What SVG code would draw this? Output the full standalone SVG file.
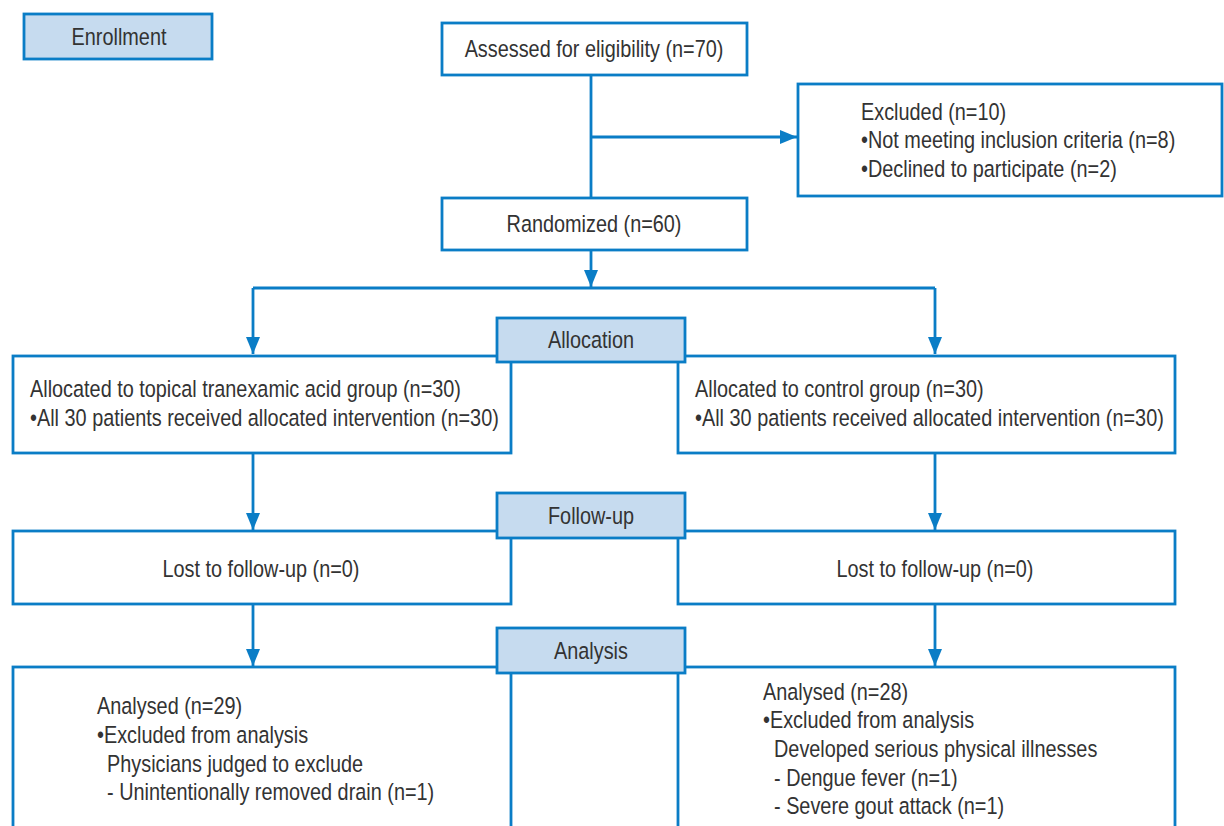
<svg xmlns="http://www.w3.org/2000/svg" width="1224" height="826" viewBox="0 0 1224 826">
<style>
.box{fill:#ffffff;stroke:#0a7dc6;stroke-width:2.8}
.phase{fill:#c6dbef;stroke:#0a7dc6;stroke-width:2.8}
.ln{fill:none;stroke:#0a7dc6;stroke-width:2.8}
text{font-family:'Liberation Sans',Arial,sans-serif;font-size:23.5px;fill:#333333}
.c{text-anchor:middle}
</style>
<defs>
<marker id="ah" viewBox="0 0 17 14" refX="17" refY="7" markerWidth="17" markerHeight="14" markerUnits="userSpaceOnUse" orient="auto">
<path d="M0,0 L17,7 L0,14 z" fill="#0a7dc6"/>
</marker>
</defs>
<rect width="1224" height="826" fill="#ffffff"/>
<g id="connectors">
<path class="ln" d="M591,75 V198"/>
<path class="ln" d="M591,137 H797" marker-end="url(#ah)"/>
<path class="ln" d="M591,250 V287" marker-end="url(#ah)"/>
<path class="ln" d="M253,288 H935"/>
<path class="ln" d="M253,288 V354" marker-end="url(#ah)"/>
<path class="ln" d="M935,288 V354" marker-end="url(#ah)"/>
<path class="ln" d="M253,453 V530" marker-end="url(#ah)"/>
<path class="ln" d="M935,453 V530" marker-end="url(#ah)"/>
<path class="ln" d="M253,604 V666" marker-end="url(#ah)"/>
<path class="ln" d="M935,604 V666" marker-end="url(#ah)"/>
</g>
<g id="enrollment">
<rect class="phase" x="24" y="14" width="188" height="45"/>
<text class="c" transform="translate(119,45) scale(0.845,1)">Enrollment</text>
</g>
<g id="assessed">
<rect class="box" x="442" y="23" width="305" height="52"/>
<text class="c" transform="translate(594,57) scale(0.845,1)">Assessed for eligibility (n=70)</text>
</g>
<g id="excluded">
<rect class="box" x="798" y="84" width="424" height="112"/>
<text transform="translate(861,120) scale(0.845,1)">Excluded (n=10)</text>
<text transform="translate(861,148) scale(0.845,1)">•Not meeting inclusion criteria (n=8)</text>
<text transform="translate(861,177) scale(0.845,1)">•Declined to participate (n=2)</text>
</g>
<g id="randomized">
<rect class="box" x="442" y="198" width="305" height="52"/>
<text class="c" transform="translate(594,232) scale(0.845,1)">Randomized (n=60)</text>
</g>
<g id="alloc-left">
<rect class="box" x="13" y="356" width="498" height="97"/>
<text transform="translate(30,397) scale(0.845,1)">Allocated to topical tranexamic acid group (n=30)</text>
<text transform="translate(30,426) scale(0.845,1)">•All 30 patients received allocated intervention (n=30)</text>
</g>
<g id="alloc-right">
<rect class="box" x="678" y="356" width="497" height="97"/>
<text transform="translate(695,397) scale(0.845,1)">Allocated to control group (n=30)</text>
<text transform="translate(695,426) scale(0.845,1)">•All 30 patients received allocated intervention (n=30)</text>
</g>
<g id="lost-left">
<rect class="box" x="13" y="531" width="498" height="73"/>
<text class="c" transform="translate(261,577) scale(0.845,1)">Lost to follow-up (n=0)</text>
</g>
<g id="lost-right">
<rect class="box" x="678" y="531" width="497" height="73"/>
<text class="c" transform="translate(935,577) scale(0.845,1)">Lost to follow-up (n=0)</text>
</g>
<g id="analysis-left">
<rect class="box" x="13" y="667" width="498" height="175"/>
<text transform="translate(97,714) scale(0.845,1)">Analysed (n=29)</text>
<text transform="translate(97,743) scale(0.845,1)">•Excluded from analysis</text>
<text transform="translate(107,772) scale(0.845,1)">Physicians judged to exclude</text>
<text transform="translate(107,800) scale(0.845,1)">- Unintentionally removed drain (n=1)</text>
</g>
<g id="analysis-right">
<rect class="box" x="678" y="667" width="497" height="175"/>
<text transform="translate(763,700) scale(0.845,1)">Analysed (n=28)</text>
<text transform="translate(763,728) scale(0.845,1)">•Excluded from analysis</text>
<text transform="translate(774,757) scale(0.845,1)">Developed serious physical illnesses</text>
<text transform="translate(774,786) scale(0.845,1)">- Dengue fever (n=1)</text>
<text transform="translate(774,814) scale(0.845,1)">- Severe gout attack (n=1)</text>
</g>
<g id="allocation">
<rect class="phase" x="497" y="318" width="188" height="44"/>
<text class="c" transform="translate(591,348) scale(0.845,1)">Allocation</text>
</g>
<g id="followup">
<rect class="phase" x="497" y="493" width="188" height="45"/>
<text class="c" transform="translate(591,524) scale(0.845,1)">Follow-up</text>
</g>
<g id="analysis">
<rect class="phase" x="497" y="628" width="188" height="45"/>
<text class="c" transform="translate(591,659) scale(0.845,1)">Analysis</text>
</g>
</svg>
